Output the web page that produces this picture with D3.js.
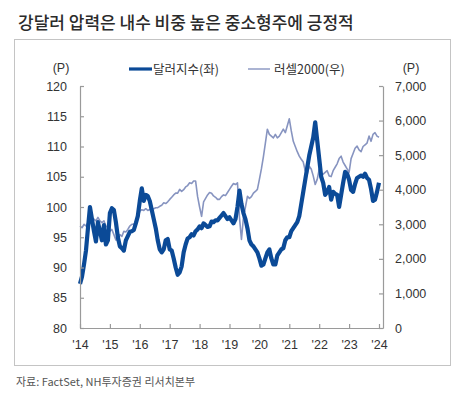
<!DOCTYPE html>
<html>
<head>
<meta charset="utf-8">
<script src="https://cdn.jsdelivr.net/npm/d3@7"></script>
<style>
    html, body { margin: 0; padding: 0; background: #fff; }
    text { font-family: "Liberation Sans", Arial, "Noto Sans CJK KR", sans-serif; }
    .kr { font-family: "Noto Sans CJK KR", sans-serif; }
</style>
</head>
<body>
<div id="chart"></div>
<script>
"use strict";

// one sample every 1/15 year, starting at '14
var startYear = 2014;
var samplesPerYear = 15;

var dollarIndex = [
    87.3, 88.5, 90.5, 92.8, 96.5, 100.0, 98.0, 96.0, 94.3, 97.5,
    96.0, 94.5, 97.0, 93.8, 94.5, 99.0, 99.8, 99.5, 97.5, 95.0,
    93.5, 93.2, 92.8, 94.5, 95.2, 95.9, 96.0, 96.2, 97.3, 98.5,
    101.0, 103.1, 101.0, 102.0, 101.8, 101.0, 99.5, 98.0, 96.5, 94.5,
    93.0, 92.5, 93.0, 94.5, 94.7, 93.0, 92.8, 91.5, 90.0, 88.8,
    89.2, 90.2, 92.5, 93.8, 94.8, 95.0, 95.5, 95.3, 96.0, 96.3,
    96.8, 96.5, 97.3, 97.0, 96.7, 96.8, 97.6, 97.5, 97.8, 97.8,
    98.2, 98.6, 99.0, 98.5, 98.0, 98.3, 97.8, 97.3, 98.0, 100.0,
    102.7, 100.5, 99.0, 98.0, 96.5, 94.5, 93.8, 93.5, 93.0, 92.5,
    91.5, 90.3, 90.5, 91.5, 92.5, 93.0, 91.5, 90.5, 90.5, 92.0,
    92.5, 93.0, 93.2, 94.5, 95.0, 95.0, 96.0, 96.5, 97.0, 97.5,
    98.5, 100.5, 102.5, 104.5, 106.5, 108.5, 110.0, 111.5, 114.0, 111.0,
    108.0, 105.0, 104.0, 102.0, 102.5, 103.3, 101.2, 102.5, 102.2, 102.0,
    100.0, 102.0, 104.0, 105.8, 105.5, 104.5, 102.8, 102.5, 103.8, 104.8,
    105.0, 105.2, 105.0, 105.5, 104.8, 104.5, 103.0, 101.0, 101.2, 102.5,
    104.0
];

var russell2000 = [
    2950, 2900, 3000, 2950, 3050, 3100, 3050, 3150, 3100, 3200,
    3100, 3050, 3100, 2950, 2900, 2800, 2850, 2700, 2550, 2550,
    2700, 2650, 2800, 2780, 2850, 2950, 3000, 3000, 3080, 3150,
    3380, 3420, 3400, 3450, 3400, 3430, 3450, 3450, 3480, 3480,
    3520, 3550, 3620, 3600, 3650, 3720, 3780, 3850, 3900, 3900,
    4010, 3950, 4000, 4080, 4120, 4200, 4180, 4250, 4250, 3800,
    3500, 3230, 3650, 3750, 3850, 3920, 3900, 3820, 3780, 3720,
    3720, 3800, 3850, 3830, 3920, 4010, 4100, 4180, 4150, 4200,
    3200, 2560, 3200, 3500, 3810, 3750, 3800, 3900, 3950, 4010,
    4300, 4600, 4950, 5350, 5750, 5600, 5550, 5500, 5600, 5500,
    5550, 5650, 5750, 5650, 5850, 6050, 5700, 5400, 5250, 5100,
    4970, 4880, 4800, 4550, 4450, 4680, 4600, 4400, 4150, 4300,
    4590, 4450, 4450, 4500, 4550, 4400, 4380, 4550, 4650, 4750,
    4900, 4970, 4800, 4700, 4600, 4500, 4900, 5050, 5200, 5260,
    5150, 5100, 5250, 5300, 5350, 5550, 5400, 5600, 5650, 5550,
    5520
];

var yearTicks = [2014, 2015, 2016, 2017, 2018, 2019, 2020, 2021, 2022, 2023, 2024];
var leftTicks = [80, 85, 90, 95, 100, 105, 110, 115, 120];
var rightTicks = [0, 1000, 2000, 3000, 4000, 5000, 6000, 7000];

var titleText = "강달러 압력은 내수 비중 높은 중소형주에 긍정적";
var sourceText = "자료: FactSet, NH투자증권 리서치본부";
var dollarName = "달러지수(좌)";
var russellName = "러셀2000(우)";

var W = 458, H = 396;
var plot = { left: 80, right: 383, top: 86, bottom: 328 };
var dollarColor = "#0b4a97";
var russellColor = "#8794c0";
var axisColor = "#9a9a9a";
var textColor = "#333";

var svg = d3.select("#chart").append("svg")
    .attr("width", W).attr("height", H)
    .style("display", "block");

svg.append("rect").attr("width", W).attr("height", H).attr("fill", "#fff");

svg.append("text")
    .attr("class", "kr")
    .attr("x", 18).attr("y", 29)
    .attr("font-size", 17)
    .attr("font-weight", 500)
    .attr("fill", "#2b2b2b")
    .text(titleText);

svg.append("rect")
    .attr("x", 14.5).attr("y", 39.5)
    .attr("width", 436).attr("height", 326)
    .attr("fill", "none")
    .attr("stroke", "#c4c4c4");

var x = d3.scaleLinear()
    .domain([2014, 2024 + 4 / 29.9])
    .range([plot.left, plot.right]);
var yL = d3.scaleLinear().domain([80, 120]).range([plot.bottom, plot.top]);
var yR = d3.scaleLinear().domain([0, 7000]).range([plot.bottom, plot.top]);

function when(i) {
    return startYear + i / samplesPerYear;
}

// lines: russell behind, dollar on top
var russellLine = d3.line()
    .x(function (d, i) { return x(when(i)); })
    .y(function (d) { return yR(d); });
var dollarLine = d3.line()
    .x(function (d, i) { return x(when(i)); })
    .y(function (d) { return yL(d); });

svg.append("path")
    .datum(russell2000)
    .attr("d", russellLine)
    .attr("fill", "none")
    .attr("stroke", russellColor)
    .attr("stroke-width", 1.6)
    .attr("stroke-linejoin", "round");

svg.append("path")
    .datum(dollarIndex)
    .attr("d", dollarLine)
    .attr("fill", "none")
    .attr("stroke", dollarColor)
    .attr("stroke-width", 4.2)
    .attr("stroke-linejoin", "round");

// axes
function styleAxis(g) {
    g.select(".domain").attr("stroke", axisColor).attr("stroke-width", 1.2);
    g.selectAll(".tick line").attr("stroke", axisColor).attr("stroke-width", 1.2);
    g.selectAll(".tick text")
        .attr("fill", textColor)
        .attr("font-size", 12.5)
        .attr("font-family", "'Liberation Sans', Arial, sans-serif");
}

var gx = svg.append("g")
    .attr("transform", "translate(0," + plot.bottom + ")")
    .call(d3.axisTop(x).tickValues(yearTicks).tickSize(4).tickSizeOuter(0)
        .tickFormat(function (d) { return "'" + String(d).slice(2); }));
styleAxis(gx);
gx.selectAll(".tick text").attr("y", 21).attr("dy", 0);

var gl = svg.append("g")
    .attr("transform", "translate(" + plot.left + ",0)")
    .call(d3.axisRight(yL).tickValues(leftTicks).tickSize(4).tickSizeOuter(0));
styleAxis(gl);
gl.selectAll(".tick text").attr("x", -13).attr("text-anchor", "end");

var gr = svg.append("g")
    .attr("transform", "translate(" + plot.right + ",0)")
    .call(d3.axisLeft(yR).tickValues(rightTicks).tickSize(4).tickSizeOuter(0)
        .tickFormat(d3.format(",")));
styleAxis(gr);
gr.selectAll(".tick text").attr("x", 12).attr("text-anchor", "start");

// unit labels
svg.append("text").attr("x", 61).attr("y", 72)
    .attr("text-anchor", "middle").attr("font-size", 12.5).attr("fill", textColor)
    .text("(P)");
svg.append("text").attr("x", 411).attr("y", 72)
    .attr("text-anchor", "middle").attr("font-size", 12.5).attr("fill", textColor)
    .text("(P)");

// legend
var legend = svg.append("g").attr("class", "legend");
legend.append("line")
    .attr("x1", 129).attr("x2", 152).attr("y1", 69).attr("y2", 69)
    .attr("stroke", dollarColor).attr("stroke-width", 3.2);
legend.append("text").attr("class", "kr")
    .attr("x", 153).attr("y", 73.5).attr("font-size", 12.5).attr("fill", textColor)
    .text(dollarName);
legend.append("line")
    .attr("x1", 248).attr("x2", 270).attr("y1", 69).attr("y2", 69)
    .attr("stroke", russellColor).attr("stroke-width", 1.4);
legend.append("text").attr("class", "kr")
    .attr("x", 274).attr("y", 73.5).attr("font-size", 12.5).attr("fill", textColor)
    .text(russellName);

svg.append("text")
    .attr("class", "kr")
    .attr("x", 16).attr("y", 386)
    .attr("font-size", 11)
    .attr("fill", "#555")
    .text(sourceText);
</script>
</body>
</html>
